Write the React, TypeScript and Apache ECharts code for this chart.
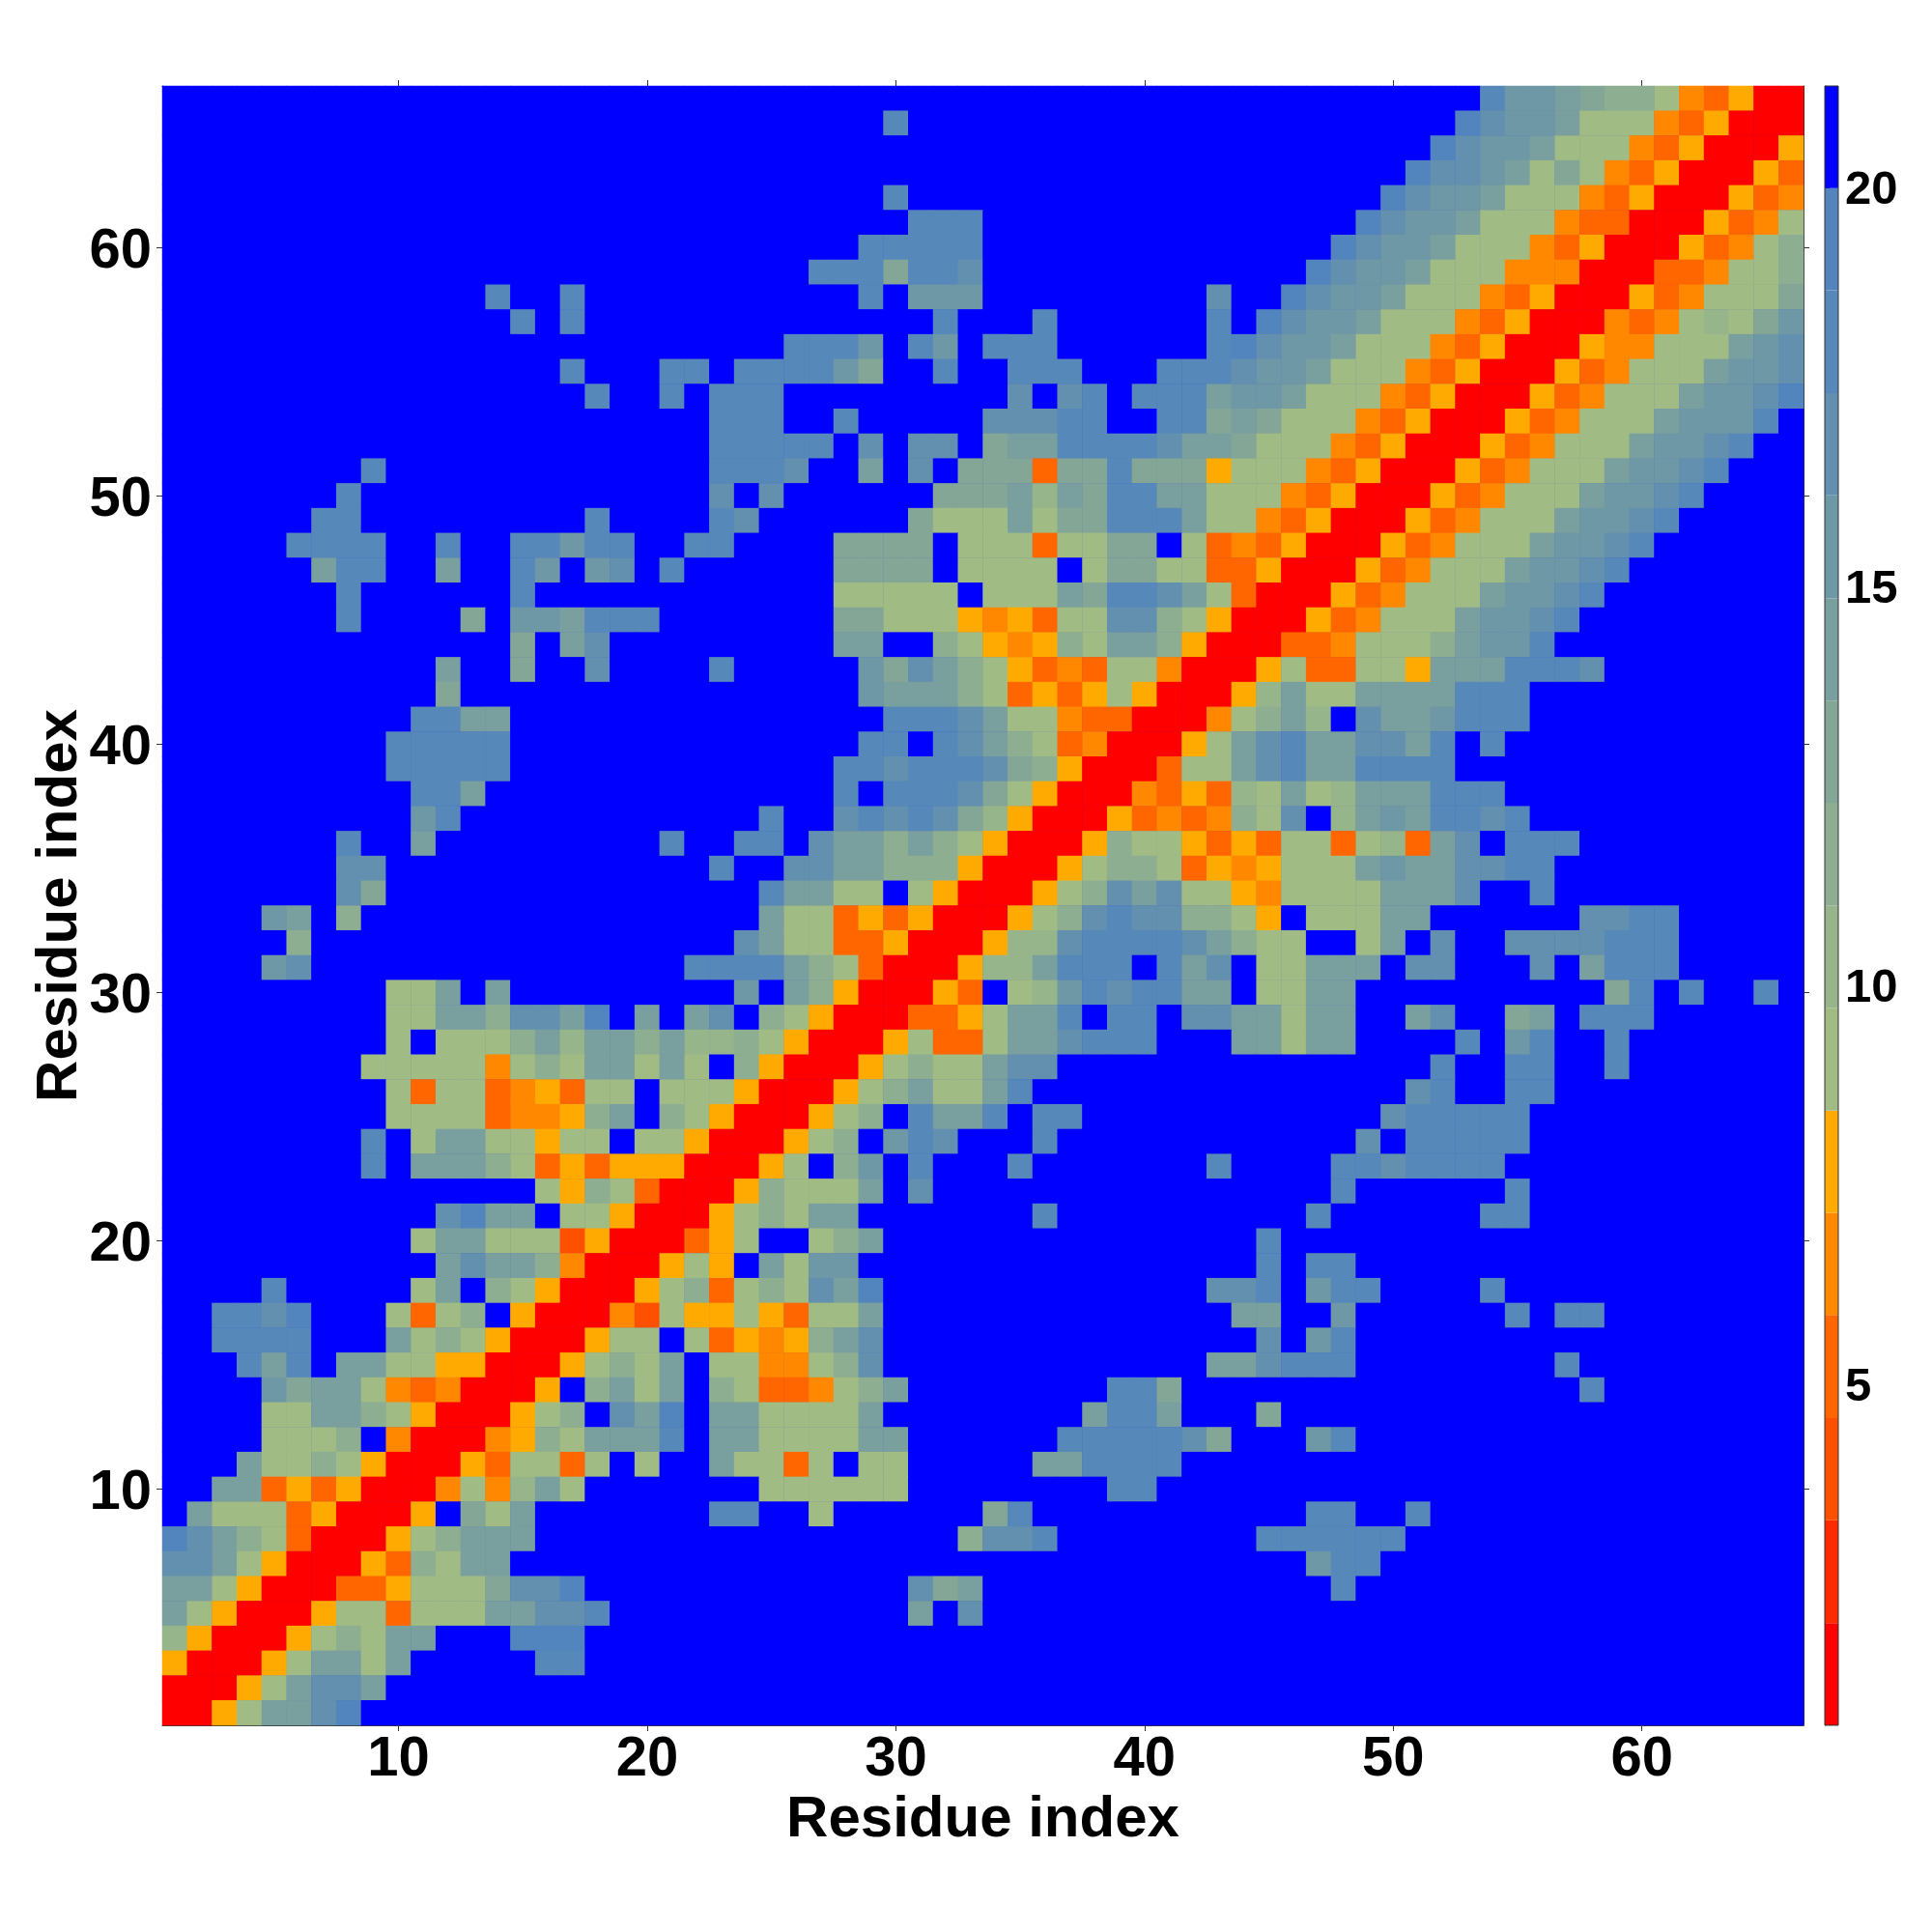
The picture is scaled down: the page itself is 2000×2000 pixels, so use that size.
import React, { useEffect, useRef } from "react";
import * as echarts from "echarts";

// Colour-bar bands: edges in the plotted unit, bottom to top
const bandEdges = [0.73, 2.01, 3.3, 4.58, 5.87, 7.15, 8.43, 9.72, 11.0, 12.29, 13.57, 14.85, 16.14, 17.42, 18.71, 19.99, 21.27];
const bandColors = [
  "#ff0000", "#ff2a00", "#ff5000", "#ff6600", "#ff8800", "#ffaa00",
  "#a1bb84", "#97b58a", "#8dae91", "#84a697", "#7a9f9f", "#6f98a6", "#6390ae", "#5788ba", "#5284be",
  "#0000ff",
];
const bandCodes = "rutdoa123456789.";
const colorbarTicks = [5, 10, 15, 20];
const residues = Array.from({ length: 66 }, (_, i) => String(i + 1));

// One entry per row, top (residue 66) to bottom (residue 1).
const rowCells = [
  "54:86654331odarr",
  "30:8 53:97665111odarrr",
  "52:97665111odarrra",
  "51:97765141odarrrad",
  "30:8 50:97665111odarrrado",
  "31:888 49:97665111oddrrrado1",
  "29:88888 48:97665111odarrrado13",
  "27:8884887 47:97665111ooorrrddo113",
  "14:8 17:8 29:8 31:666 43:7 46:97665111odarrrado1114",
  "15:8 17:8 32:8 36:8 43:8 45:97665111odarrrodo12146",
  "26:8886 31:86 34:888 43:897665111odarrraoo111567",
  "17:8 21:88 24:888864 32:8 35:888 41:8887665111odarrrado1115667",
  "18:8 21:8 23:888 35:7 37:78 40:8885665111odarrrado11156679",
  "23:888 28:8 34:777 37:88 41:88454111odarrrado11156668",
  "23:88888 29:7 31:77 34:45588887554111odarrrado11156678",
  "9:8 23:8887 29:5 31:7 33:444d448444a111odarrrado11156678",
  "8:8 23:7 25:7 32:44452548855111odarrrado11156678",
  "7:88 18:8 23:87 31:41115144888511odarrrado11156678",
  "6:8888 12:8 15:88688 22:88 28:4444 33:111d1144 42:1dodarrrado11156678",
  "7:588 12:5 15:86 18:67 21:8 28:4444 33:1111 38:144 41:11ddarrrado11156678",
  "8:8 15:8 28:11111 34:1115488751drrrado11156678",
  "8:8 13:4 15:665888 28:44111aoad117731arrrado11156678",
  "15:4 17:57 28:55 32:31aoa31553arrrddo11135668",
  "12:5 15:4 18:7 23:8 29:647531adod11orrra1dd11a5558887",
  "12:4 29:655531dada1arrra25115555888",
  "11:8855 30:8887511oddrrro1352 49:7556888",
  "10:88888 29:88 32:87531dorrra1578557758 54:8",
  "10:88888 28:887888743arrrd11578558888",
  "11:885 28:8 30:888741arrrodad21512555888",
  "11:68 25:8 28:7878742arrradodo317 48:25658878",
  "8:8 11:5 21:8 24:88 27:7553531arrra311adad11d12d57 55:888",
  "8:77 23:8 26:7755333arrra1331daoa11156557788",
  "8:74 25:85511 31:1arrra1375711ao11115557 56:8",
  "5:65 8:3 25:511dadarrra137877331a 47:11155 58:7788",
  "6:3 24:7511ddarrra227888875311 49:15 52:7 55:7777888",
  "5:67 22:8888531drrra225888 41:857 45:11555 51:77 56:7 58:5888",
  "10:115 14:5 24:6 26:53arrrad 35:126878855 45:1155 59:48 62:8 65:8",
  "10:115537759 20:5 22:57 25:31arrrdda1558 39:88 42:7755155 51:57 55:45 58:888",
  "10:1 12:11135255352231arrra1dd1557888 44:55155 53:8 55:68 59:8",
  "9:11111o13155151 24:3arrra1311577 52:8 55:88 59:8",
  "10:1d11doad11 21:111arrra1351158 51:78 55:88",
  "10:1111dooa35 21:31arrra13 31:8558 36:88 50:788888",
  "9:8 11:15511a11 20:11arrra13 30:687 36:8 49:7 51:88888",
  "9:8 11:55531dadaaarrra1 28:36 31:8 35:8 43:8 48:8878888",
  "16:1a31drrra31115 31:7 48:8 55:8",
  "12:7955 17:11arrra13155 36:8 47:8 54:88",
  "11:155111tarrrda1 27:135 45:8",
  "12:57553orrra1a 25:5166 45:8 47:88",
  "5:8 11:15 14:31arrra13d131759 43:778 47:688 54:8",
  "3:8879 10:1d13 15:arrrot1aa1ad115 44:55 48:6 55:8 57:88",
  "3:8888 10:5131arrra11 22:1daoa357 45:7 47:68",
  "4:858 8:5511aarrra1315 23:11oo137 43:557888 57:8",
  "5:64551odorrra 18:3515 23:31ddo135 39:884 58:8",
  "5:115531arrra13 19:759 23:5511115 38:5885 45:4",
  "5:1113 10:orrroa315558 23:55111155 37:8888874 47:68",
  "4:51131arrrad11d1 20:1 23:511d1 29:11 36:558888",
  "3:55dadarrro1o251 25:111111 39:88",
  "2:5111darrra 13:415 23:88 27:1 34:48 47:88 51:8",
  "1:97531drrra13555 33:3778 45:888888",
  "1:7751arrrad3155 47:688",
  "1:551arrrdda1114779 31:745 48:8",
  "1:51arrra11d11155778 31:5 33:7",
  "1:2arrra13155 15:999",
  "1:arrra15515 16:88",
  "1:rrra15775",
  "1:rra15579",
];

const FONT = "Liberation Sans";
const isDecade = (index: number) => (index + 1) % 10 === 0;

function buildCells() {
  const farBand = bandCodes.length - 1;
  const center = (b: number) => (bandEdges[b] + bandEdges[b + 1]) / 2;
  const cells: [number, number, number][] = [];
  rowCells.forEach((row, r) => {
    const levels = new Array(residues.length).fill(farBand);
    row.split(" ").forEach((chunk) => {
      const [start, codes] = chunk.split(":");
      for (let i = 0; i < codes.length; i++) {
        levels[Number(start) - 1 + i] = bandCodes.indexOf(codes[i]);
      }
    });
    levels.forEach((b, c) => cells.push([c, residues.length - 1 - r, center(b)]));
  });
  return cells;
}

export default function App() {
  const ref = useRef<HTMLDivElement>(null);

  useEffect(() => {
    document.body.style.margin = "0";
    const chart = echarts.init(ref.current!, null, { renderer: "svg" });
    const tickStyle = { show: true, length: 6, alignWithLabel: true, interval: isDecade, lineStyle: { color: "#333", width: 1 } };
    const lineStyle = { show: true, lineStyle: { color: "#333", width: 1 } };
    const labelStyle = { fontFamily: FONT, fontWeight: "bold" as const, fontSize: 58, color: "#000", lineHeight: 44 };
    const nameStyle = { fontFamily: FONT, fontWeight: "bold" as const, fontSize: 60, color: "#000", lineHeight: 44 };

    chart.setOption({
      animation: false,
      backgroundColor: "#fff",
      grid: [
        { left: 168, top: 89, width: 1699, height: 1697, containLabel: false, outerBoundsMode: "none", show: true, backgroundColor: "#0000ff", borderWidth: 0 },
        { left: 1889, top: 89, width: 14, height: 1697, containLabel: false, outerBoundsMode: "none" },
      ],
      xAxis: [
        {
          type: "category", gridIndex: 0, data: residues, position: "bottom", boundaryGap: true,
          axisLine: lineStyle, axisTick: tickStyle, splitLine: { show: false },
          axisLabel: { ...labelStyle, interval: isDecade, margin: 9 },
          name: "Residue index", nameLocation: "middle", nameGap: 72, nameMoveOverlap: false, nameTextStyle: nameStyle,
        },
        {
          type: "category", gridIndex: 0, data: residues, position: "top", boundaryGap: true,
          axisLine: lineStyle, axisTick: tickStyle, axisLabel: { show: false }, splitLine: { show: false },
        },
        { type: "value", gridIndex: 1, min: 0, max: 1, show: false },
      ],
      yAxis: [
        {
          type: "category", gridIndex: 0, data: residues, position: "left", boundaryGap: true,
          axisLine: lineStyle, axisTick: tickStyle, splitLine: { show: false },
          axisLabel: { ...labelStyle, interval: isDecade, margin: 11 },
          name: "Residue index", nameLocation: "middle", nameGap: 88, nameMoveOverlap: false, nameTextStyle: nameStyle,
        },
        {
          type: "category", gridIndex: 0, data: residues, position: "right", boundaryGap: true,
          axisLine: lineStyle, axisTick: tickStyle, axisLabel: { show: false }, splitLine: { show: false },
        },
        {
          type: "value", gridIndex: 1, position: "right", min: bandEdges[0], max: bandEdges[bandEdges.length - 1],
          axisLine: lineStyle,
          axisTick: { show: true, length: 5, customValues: colorbarTicks, lineStyle: { color: "#333", width: 1 } },
          axisLabel: { fontFamily: FONT, fontWeight: "bold", fontSize: 49, color: "#000", margin: 7, customValues: colorbarTicks },
          splitLine: { show: false },
        },
      ],
      visualMap: {
        show: false,
        type: "piecewise",
        seriesIndex: 0,
        dimension: 2,
        pieces: bandColors.map((color, i) => ({ gte: bandEdges[i], lt: bandEdges[i + 1], color })),
      },
      series: [
        {
          type: "heatmap",
          xAxisIndex: 0,
          yAxisIndex: 0,
          data: buildCells(),
          progressive: 0,
          itemStyle: { borderWidth: 0 },
          emphasis: { disabled: true },
          silent: true,
        },
        {
          type: "custom",
          xAxisIndex: 2,
          yAxisIndex: 2,
          silent: true,
          clip: false,
          encode: { x: 0, y: [1, 2] },
          data: bandColors.map((_, i) => [0, bandEdges[i], bandEdges[i + 1], i]),
          renderItem: (_: any, api: any) => {
            const p0 = api.coord([0, api.value(2)]);
            const p1 = api.coord([1, api.value(1)]);
            return {
              type: "rect",
              shape: { x: p0[0], y: p0[1], width: p1[0] - p0[0], height: p1[1] - p0[1] },
              style: { fill: bandColors[api.value(3)], stroke: null },
            };
          },
        },
      ],
      graphic: [
        {
          type: "rect",
          z: 50,
          shape: { x: 1889, y: 89, width: 14, height: 1697 },
          style: { fill: "none", stroke: "#333", lineWidth: 1 },
          silent: true,
        },
      ],
    });
    return () => chart.dispose();
  }, []);

  return <div ref={ref} style={{ width: 2000, height: 2000 }} />;
}
